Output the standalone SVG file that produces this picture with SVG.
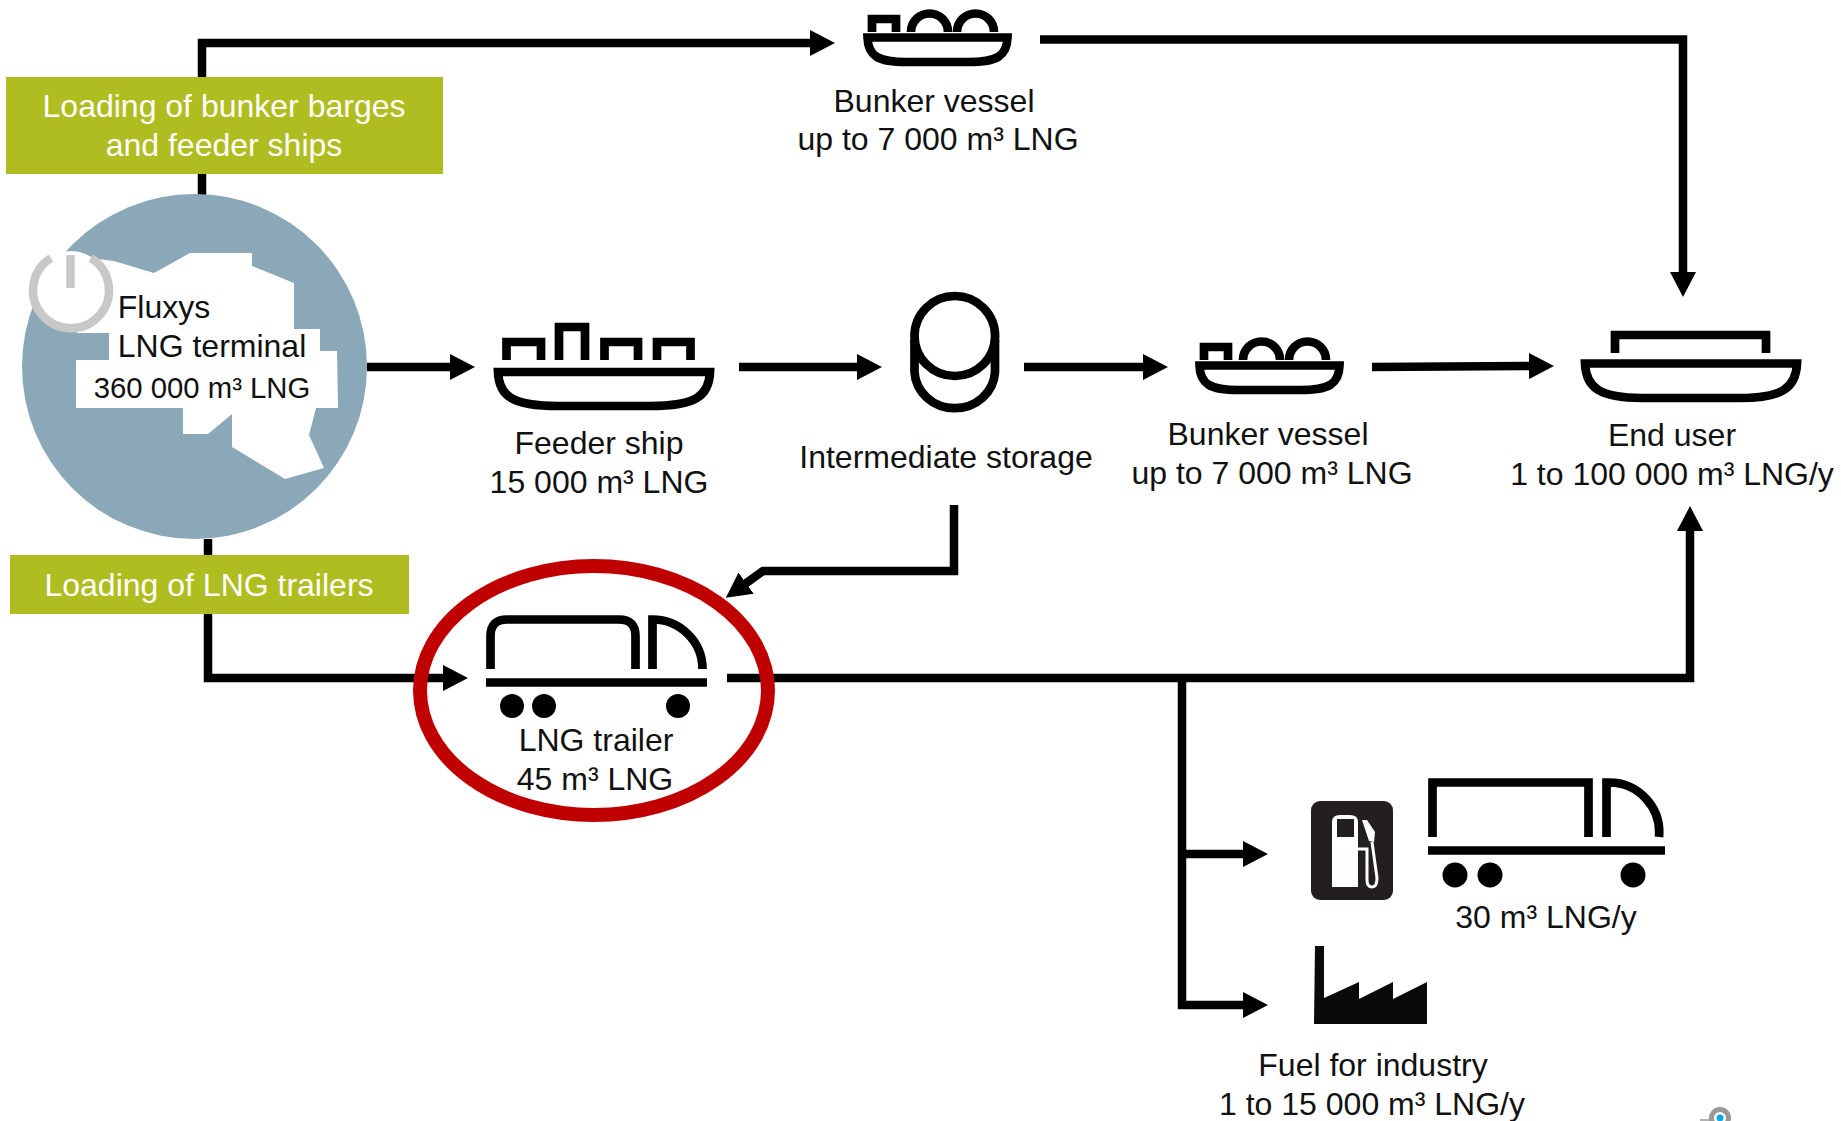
<svg xmlns="http://www.w3.org/2000/svg" width="1841" height="1121" viewBox="0 0 1841 1121">
<style>
text{font-family:"Liberation Sans",Arial,sans-serif;font-size:32px;fill:#111;text-anchor:middle;stroke:none}
.i{fill:none;stroke:#000;stroke-width:8.7}
.c{fill:none;stroke:#000;stroke-width:8.5}
.w{fill:#fff}
.b{fill:#afbd21}
</style>
<defs>
<marker id="a" markerUnits="userSpaceOnUse" markerWidth="26" markerHeight="26" refX="10" refY="13" orient="auto"><path d="M0,0L25,13L0,26Z" fill="#000"/></marker>
<g id="bunker" class="i">
<path d="M4.500,4.500H144.500C144,23 134,29 105,29H44C15,29 5,23 4.500,4.500Z"/>
<path d="M9,-1V-14H33V-1"/>
<path d="M48,-1A18.500,18.500 0 0 1 85,-1"/>
<path d="M94,-1A18.500,18.500 0 0 1 131,-1"/>
</g>
</defs>
<g id="connectors" class="c">
<path d="M202,195V43H820" marker-end="url(#a)"/>
<path d="M1040,39.500H1683V282" marker-end="url(#a)"/>
<path d="M367,367H460" marker-end="url(#a)"/>
<path d="M739,367H867" marker-end="url(#a)"/>
<path d="M1024,367H1153" marker-end="url(#a)"/>
<path d="M1372,367L1539,366" marker-end="url(#a)"/>
<path d="M208,539V678H453" marker-end="url(#a)"/>
<path d="M727,678H1690V521" marker-end="url(#a)"/>
<path d="M1182,678V1005H1253" marker-end="url(#a)"/>
<path d="M1182,854H1253" marker-end="url(#a)"/>
<path d="M954,505V571H763L738,589" marker-end="url(#a)"/>
</g>
<g id="bunker-top"><use href="#bunker" x="863" y="33"/><text x="934" y="112">Bunker vessel</text><text x="938" y="150">up to 7 000 m³ LNG</text></g>
<g id="label-barges"><rect class="b" x="6" y="77" width="437" height="97"/><text class="w" x="224" y="117">Loading of bunker barges</text><text class="w" x="224" y="156">and feeder ships</text></g>
<g id="terminal">
<circle cx="194.500" cy="366.500" r="172.500" fill="#8ba8b8"/>
<path d="M71,256L114,261L154,273L190,253H252V266L294,283V329H320V351H337L338,408H316L309,435L324,468L285,479L232,447V414L208,434H183V408H76V360H109V333H77Z" fill="#fff"/>
<circle cx="71" cy="289" r="38" fill="#fff"/>
<path d="M51,258A38,38 0 1 0 91,258" fill="none" stroke="#c8c8c8" stroke-width="8.500"/>
<path d="M70.500,255V288" stroke="#c8c8c8" stroke-width="8.500"/>
<text x="164" y="318">Fluxys</text><text x="212" y="357">LNG terminal</text><text x="202" y="398" style="font-size:29.300px">360 000 m³ LNG</text>
</g>
<g id="feeder" class="i">
<path d="M498,372H710C709,396 696,406 650,406H558C512,406 499,396 498,372Z"/>
<path d="M506.500,360V342H541V360M559,360V327H585V360M604.500,360V342H638V360M657,360V342H690.500V360"/>
<text x="599" y="454">Feeder ship</text><text x="599" y="493">15 000 m³ LNG</text>
</g>
<g id="storage" class="i">
<ellipse cx="954.800" cy="336" rx="40.300" ry="40"/>
<path d="M914.500,340V372A40.300,38 0 0 0 995,372V340"/>
<text x="946" y="468">Intermediate storage</text>
</g>
<g id="bunker-mid"><use href="#bunker" x="1195" y="361"/><text x="1268" y="445">Bunker vessel</text><text x="1272" y="484">up to 7 000 m³ LNG</text></g>
<g id="end-user" class="i">
<path d="M1585,363.500H1797C1796,388 1782,398 1740,398H1642C1600,398 1586,388 1585,363.500Z"/>
<path d="M1615,353V335H1766V353"/>
<text x="1672" y="446">End user</text><text x="1672" y="485">1 to 100 000 m³ LNG/y</text>
</g>
<g id="label-trailers"><rect class="b" x="10" y="555" width="399" height="59"/><text class="w" x="209" y="596">Loading of LNG trailers</text></g>
<g id="trailer">
<ellipse cx="594" cy="690.500" rx="174" ry="124.500" fill="none" stroke="#c00000" stroke-width="14"/>
<path class="i" d="M490.500,669V636Q490.500,619.500 507,619.500H619Q635.500,619.500 635.500,636V669M652.500,669V619.500A50,49.500 0 0 1 702.500,669M486,682.500H707"/>
<circle cx="512" cy="706" r="12"/><circle cx="544" cy="706" r="12"/><circle cx="678" cy="706" r="12"/>
<text x="596" y="751">LNG trailer</text><text x="595" y="790">45 m³ LNG</text>
</g>
<g id="pump">
<rect x="1311" y="801" width="82" height="99" rx="9" fill="#231f20"/>
<path d="M1332,822Q1332,815 1340,815H1350Q1358,815 1358,822V887H1332Z" fill="#fff"/>
<rect x="1337" y="819" width="17" height="18" fill="#231f20"/>
<path d="M1358,849H1367V880Q1367,887 1372,887Q1377,887 1377,878L1372,842" fill="none" stroke="#fff" stroke-width="3"/>
<path d="M1362,820L1367,820L1375,832L1374,842L1369,841L1366,832Z" fill="#fff"/>
</g>
<g id="truck-30">
<path class="i" d="M1432.500,837V782.500H1588.500V837M1606.500,837V782.500H1609A50,50 0 0 1 1659,837M1428,850.500H1665"/>
<circle cx="1455" cy="875" r="12.500"/><circle cx="1490" cy="875" r="12.500"/><circle cx="1633" cy="875" r="12.500"/>
<text x="1546" y="928">30 m³ LNG/y</text>
</g>
<g id="industry">
<path d="M1315,946H1324V998L1359,982V999L1393,982V999L1427,982V1024H1314Z" fill="#0a0a0a"/>
<text x="1373" y="1076">Fuel for industry</text><text x="1372" y="1115">1 to 15 000 m³ LNG/y</text>
</g>
<g id="corner-mark">
<circle cx="1720" cy="1118" r="8.500" fill="none" stroke="#999" stroke-width="5"/>
<circle cx="1720" cy="1118" r="3.500" fill="#0ea5e9"/>
<path d="M1700,1120H1711" stroke="#999" stroke-width="1.500"/>
</g>
</svg>
